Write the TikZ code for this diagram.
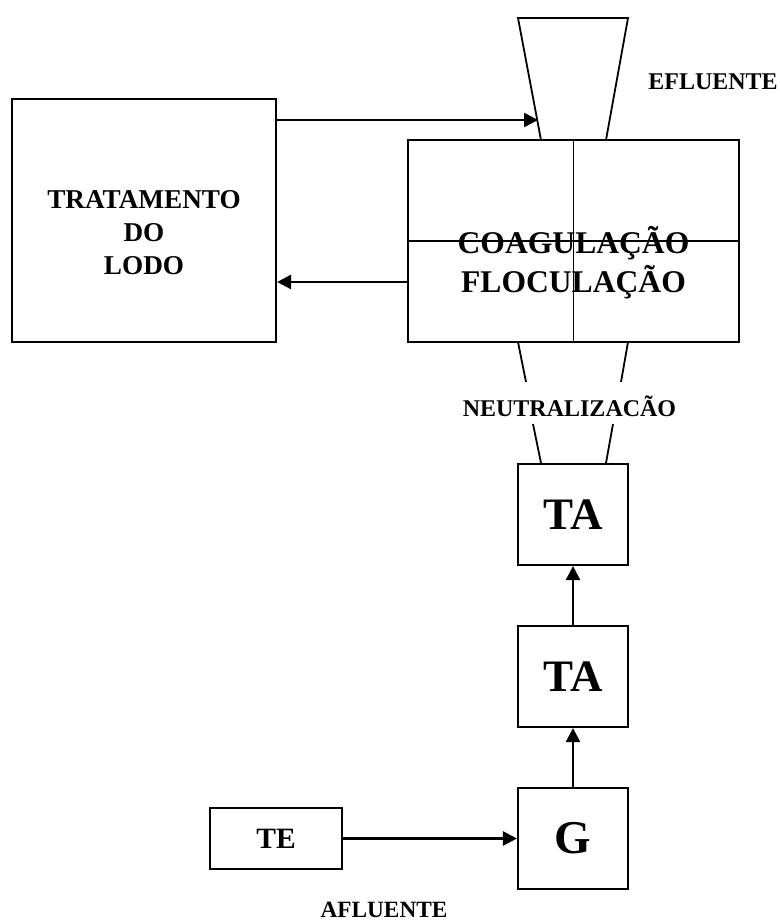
\documentclass[tikz,border=0pt]{standalone}
\usepackage{fontspec}
\setmainfont{Liberation Serif}
\usetikzlibrary{arrows.meta}
\begin{document}
\begin{tikzpicture}[x=1pt,y=-1pt,
  unit/.style={draw,line width=2.2pt,inner sep=0pt,font=\bfseries},
  flow/.style={line width=2.6pt,-{Triangle[length=14pt,width=14pt]}},
  thin/.style={line width=1.8pt},
  caption/.style={font=\fontsize{24}{28}\selectfont\bfseries,inner sep=0pt}]
\useasboundingbox (0,0) rectangle (779,923);

% sludge treatment
\node[unit,minimum width=264pt,minimum height=243pt,
  label={[yshift=-12pt,align=center,font=\fontsize{27.2}{33}\selectfont\bfseries]center:TRATAMENTO\\DO\\LODO}]
  (trat) at (144,220.5) {};

% coagulation / flocculation tank with its quadrants
\node[unit,minimum width=331pt,minimum height=202pt] (coag) at (573.5,241) {};
\draw[thin] (coag.north) -- (coag.south);
\draw[thin] (coag.west) -- (coag.east);
\node[align=center,font=\fontsize{31.6}{39}\selectfont\bfseries,inner sep=0pt]
  (coagtxt) at (573.5,263) {COAGULAÇÃO\\FLOCULAÇÃO};

% effluent outlet funnel
\draw[thin] (541,140) -- (518,18) -- (628,18) -- (606,140);
\node[caption] (eflu) at (713,82) {EFLUENTE};

% neutralization passage
\draw[thin] (518,342) -- (526,382);
\draw[thin] (628,342) -- (621,382);
\draw[thin] (533,424) -- (541,463);
\draw[thin] (613,424) -- (606,463);
\node[caption] (neut) at (569.5,406) {NEUTRALIZACÃO};

% treatment chain
\node[unit,minimum width=110pt,minimum height=101pt,font=\fontsize{45}{50}\selectfont\bfseries] (ta1) at (573,514.5) {TA};
\node[unit,minimum width=110pt,minimum height=101pt,font=\fontsize{45}{50}\selectfont\bfseries] (ta2) at (573,676.5) {TA};
\node[unit,minimum width=110pt,minimum height=101pt,font=\fontsize{47}{50}\selectfont\bfseries] (g) at (573,838.5) {G};
\node[unit,minimum width=132pt,minimum height=61pt,font=\fontsize{29.5}{34}\selectfont\bfseries] (te) at (276,838.5) {TE};
\node[caption,font=\fontsize{23.3}{28}\selectfont\bfseries] (aflu) at (384,910) {AFLUENTE};

% connectors
\coordinate (funnelIn) at (538,120);
\coordinate (lodoOut) at (408,282);
\draw[flow] (trat.east |- funnelIn) -- (funnelIn);
\draw[flow] (lodoOut) -- (lodoOut -| trat.east);
\draw[flow] (te.east) -- (g.west);
\draw[flow] (g.north) -- (ta2.south);
\draw[flow] (ta2.north) -- (ta1.south);
\end{tikzpicture}
\end{document}
